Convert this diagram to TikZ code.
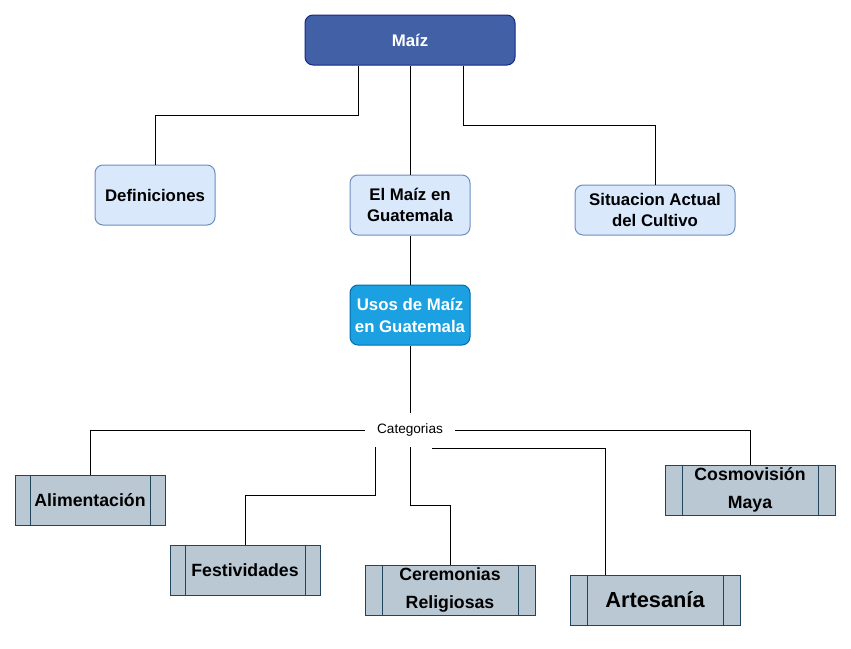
\documentclass[tikz,border=0pt]{standalone}
\usepackage{fontspec}
\setmainfont{Liberation Sans}
\usetikzlibrary{calc}
\definecolor{topfill}{HTML}{4160A6}
\definecolor{topline}{HTML}{14288C}
\definecolor{lbfill}{HTML}{DAE8FC}
\definecolor{lbline}{HTML}{6C8EBF}
\definecolor{usfill}{HTML}{1BA1E2}
\definecolor{usline}{HTML}{006EAF}
\definecolor{prfill}{HTML}{BAC8D3}
\definecolor{prline}{HTML}{23445D}
\tikzset{
  box/.style={rectangle, rounded corners=8pt, inner sep=0pt, align=center, line width=1pt},
  topbox/.style={box, fill=topfill, draw=topline, text=white, font=\fontsize{16.8}{21.5}\selectfont\bfseries},
  lightbox/.style={box, fill=lbfill, draw=lbline, font=\fontsize{16.8}{21.5}\selectfont\bfseries},
  usosbox/.style={box, fill=usfill, draw=usline, text=white, font=\fontsize{16.8}{22}\selectfont\bfseries},
  procbox/.style={rectangle, inner sep=0pt, align=center, fill=prfill, draw=prline, line width=1pt,
    font=\fontsize{17.7}{28.5}\selectfont\bfseries,
    path picture={
      \draw[prline, line width=1pt]
        ($(path picture bounding box.north west)!0.1!(path picture bounding box.north east)$) --
        ($(path picture bounding box.south west)!0.1!(path picture bounding box.south east)$)
        ($(path picture bounding box.north west)!0.9!(path picture bounding box.north east)$) --
        ($(path picture bounding box.south west)!0.9!(path picture bounding box.south east)$);
    }},
  conn/.style={draw=black, line width=1pt},
}
\begin{document}
\begin{tikzpicture}[x=1pt,y=-1pt]
\useasboundingbox (0,0) rectangle (851,648);
\node[topbox, minimum width=210pt, minimum height=50pt] (maiz) at (410,40) {Maíz};
\node[lightbox, minimum width=120pt, minimum height=60pt] (def) at (155,195) {Definiciones};
\node[lightbox, minimum width=120pt, minimum height=60pt] (elm) at (410,205) {El Maíz en\\Guatemala};
\node[lightbox, minimum width=160pt, minimum height=50pt] (sit) at (655,210) {Situacion Actual\\del Cultivo};
\node[usosbox, minimum width=120pt, minimum height=60pt] (usos) at (410,315) {Usos de Maíz\\en Guatemala};
\node[rectangle, fill=white, inner sep=0pt, minimum width=90pt, minimum height=34pt, font=\fontsize{13.6}{16}\selectfont] (cat) at (410,430) {Categorias};
\node[procbox, minimum width=150pt, minimum height=50pt] (ali) at (90,500) {Alimentación};
\node[procbox, minimum width=150pt, minimum height=50pt] (fes) at (245,570) {Festividades};
\node[procbox, minimum width=170pt, minimum height=50pt] (cer) at (450,590) {Ceremonias\\Religiosas};
\node[procbox, minimum width=170pt, minimum height=50pt, font=\fontsize{21.8}{26}\selectfont\bfseries] (art) at (655,600) {Artesanía};
\node[procbox, minimum width=170pt, minimum height=50pt] (cos) at (750,490) {Cosmovisión\\Maya};

\draw[conn] ([xshift=-52pt]maiz.south) -- ++(0,50) -| (def.north);
\draw[conn] (maiz.south) -- (elm.north);
\draw[conn] ([xshift=53pt]maiz.south) -- ++(0,60) -| (sit.north);
\draw[conn] (elm.south) -- (usos.north);
\draw[conn] (usos.south) -- (cat.north);
\draw[conn] (cat.west) -| (ali.north);
\draw[conn] (cat.east) -| (cos.north);
\draw[conn] ([xshift=-35pt]cat.south) -- ++(0,48) -| (fes.north);
\draw[conn] (cat.south) -- ++(0,58) -| (cer.north);
\draw[conn] ([xshift=22pt,yshift=-1pt]cat.south) -| ([xshift=-50pt]art.north);
\end{tikzpicture}
\end{document}
